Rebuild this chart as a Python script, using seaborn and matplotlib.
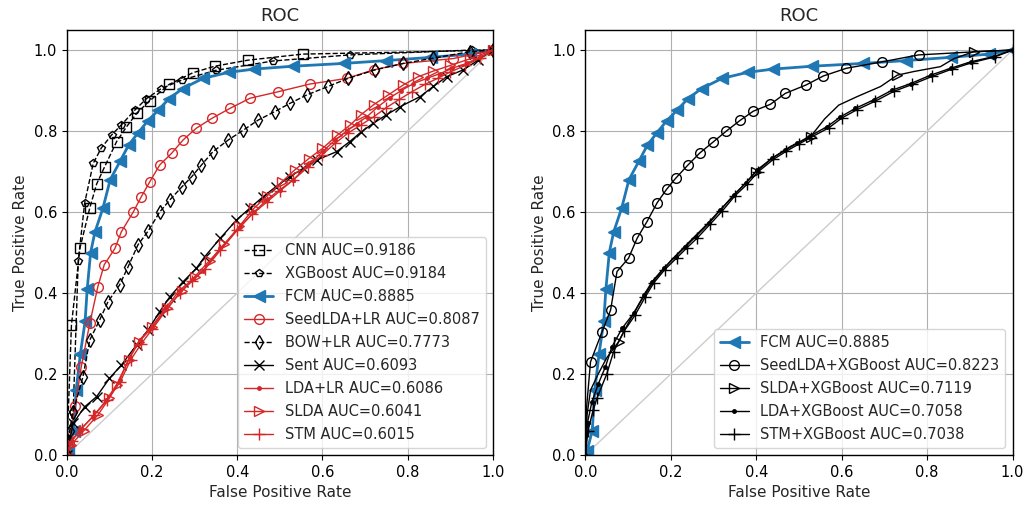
import matplotlib
matplotlib.use("Agg")
import matplotlib.pyplot as plt
import seaborn as sns

# ---- left panel data (fpr, tpr) ----
cnn_fpr = [0, 0.011, 0.031, 0.054, 0.07, 0.089, 0.117, 0.14, 0.165, 0.195, 0.24, 0.296, 0.347, 0.425, 0.554, 0.8, 1.0]
cnn_tpr = [0, 0.321, 0.511, 0.61, 0.669, 0.712, 0.774, 0.81, 0.845, 0.875, 0.915, 0.944, 0.96, 0.975, 0.99, 0.995, 1.0]

xgb_fpr = [0, 0.005, 0.015, 0.027, 0.042, 0.062, 0.081, 0.105, 0.128, 0.16, 0.187, 0.222, 0.27, 0.35, 0.484, 0.664, 0.95, 1.0]
xgb_tpr = [0, 0.04, 0.107, 0.48, 0.622, 0.72, 0.758, 0.79, 0.815, 0.852, 0.88, 0.905, 0.926, 0.95, 0.973, 0.988, 1.0, 1.0]

fcm_fpr = [0, 0.004, 0.016, 0.022, 0.032, 0.043, 0.048, 0.056, 0.066, 0.085, 0.102, 0.125, 0.145, 0.167,
           0.19, 0.215, 0.24, 0.272, 0.32, 0.38, 0.44, 0.53, 0.65, 0.75, 0.855, 0.945, 1.0]
fcm_tpr = [0, 0.01, 0.06, 0.16, 0.25, 0.33, 0.41, 0.5, 0.55, 0.61, 0.68, 0.725, 0.765, 0.795,
           0.825, 0.852, 0.88, 0.905, 0.93, 0.945, 0.953, 0.96, 0.967, 0.974, 0.982, 0.99, 1.0]

seed_lr_fpr = [0, 0.005, 0.02, 0.034, 0.054, 0.073, 0.088, 0.113, 0.128, 0.156, 0.175, 0.195, 0.218, 0.246,
               0.273, 0.304, 0.34, 0.383, 0.43, 0.496, 0.57, 0.657, 0.72, 0.79, 0.907, 1.0]
seed_lr_tpr = [0, 0.03, 0.12, 0.218, 0.325, 0.416, 0.47, 0.51, 0.551, 0.6, 0.638, 0.675, 0.716, 0.745,
               0.778, 0.807, 0.831, 0.856, 0.881, 0.897, 0.916, 0.93, 0.951, 0.967, 0.979, 1.0]

bow_fpr = [0, 0.007, 0.015, 0.038, 0.054, 0.077, 0.097, 0.124, 0.144, 0.167, 0.191, 0.218, 0.242, 0.27, 0.293,
           0.316, 0.343, 0.379, 0.414, 0.449, 0.488, 0.523, 0.563, 0.613, 0.66, 0.723, 0.79, 0.86, 0.946, 1.0]
bow_tpr = [0, 0.06, 0.107, 0.193, 0.284, 0.333, 0.379, 0.42, 0.465, 0.519, 0.553, 0.6, 0.63, 0.662, 0.687,
           0.716, 0.749, 0.778, 0.802, 0.827, 0.848, 0.868, 0.889, 0.91, 0.93, 0.951, 0.967, 0.98, 0.996, 1.0]

sent_fpr = [0, 0.015, 0.042, 0.07, 0.1, 0.128, 0.164, 0.191, 0.218, 0.242, 0.273, 0.304, 0.324, 0.36, 0.398, 0.43,
            0.461, 0.49, 0.523, 0.555, 0.586, 0.633, 0.664, 0.69, 0.719, 0.75, 0.782, 0.829, 0.86, 0.891, 0.93, 0.965, 1.0]
sent_tpr = [0, 0.078, 0.119, 0.144, 0.189, 0.222, 0.272, 0.309, 0.354, 0.391, 0.428, 0.461, 0.49, 0.535, 0.58, 0.61,
            0.638, 0.662, 0.687, 0.708, 0.728, 0.749, 0.774, 0.797, 0.819, 0.84, 0.86, 0.885, 0.91, 0.934, 0.951, 0.975, 1.0]

lda_lr_fpr = [0, 0.007, 0.031, 0.062, 0.093, 0.124, 0.148, 0.171, 0.199, 0.234, 0.265, 0.297, 0.32, 0.36, 0.406, 0.44,
              0.469, 0.5, 0.531, 0.565, 0.601, 0.63, 0.657, 0.68, 0.704, 0.73, 0.758, 0.785, 0.813, 0.845, 0.876, 0.905,
              0.938, 0.97, 1.0]
lda_lr_tpr = [0, 0.029, 0.062, 0.095, 0.136, 0.185, 0.243, 0.284, 0.317, 0.366, 0.407, 0.435, 0.455, 0.51, 0.564, 0.6,
              0.63, 0.655, 0.679, 0.715, 0.75, 0.778, 0.8, 0.818, 0.835, 0.86, 0.882, 0.9, 0.917, 0.93, 0.942, 0.955,
              0.967, 0.983, 1.0]

slda_fpr = [0, 0.01, 0.04, 0.073, 0.1, 0.117, 0.145, 0.17, 0.2, 0.235, 0.27, 0.3, 0.335, 0.37, 0.405, 0.44, 0.47,
            0.505, 0.535, 0.568, 0.6, 0.635, 0.665, 0.69, 0.72, 0.754, 0.79, 0.824, 0.86, 0.9, 0.945, 1.0]
slda_tpr = [0, 0.025, 0.06, 0.099, 0.14, 0.173, 0.235, 0.28, 0.315, 0.362, 0.405, 0.44, 0.48, 0.52, 0.565, 0.61, 0.64,
            0.675, 0.704, 0.732, 0.757, 0.79, 0.815, 0.84, 0.865, 0.889, 0.914, 0.934, 0.948, 0.962, 0.978, 1.0]

stm_fpr = [0, 0.012, 0.035, 0.065, 0.095, 0.125, 0.15, 0.175, 0.2, 0.235, 0.265, 0.295, 0.325, 0.36, 0.4, 0.435, 0.47,
           0.5, 0.53, 0.565, 0.6, 0.63, 0.66, 0.69, 0.72, 0.75, 0.78, 0.81, 0.84, 0.87, 0.9, 0.935, 0.97, 1.0]
stm_tpr = [0, 0.035, 0.065, 0.1, 0.135, 0.18, 0.235, 0.275, 0.31, 0.36, 0.4, 0.43, 0.46, 0.505, 0.555, 0.595, 0.625,
           0.652, 0.678, 0.71, 0.742, 0.77, 0.795, 0.815, 0.835, 0.858, 0.878, 0.897, 0.915, 0.93, 0.946, 0.962, 0.98, 1.0]

# ---- right panel data ----
seed_xgb_fpr = [0, 0.003, 0.012, 0.039, 0.059, 0.074, 0.101, 0.121, 0.144, 0.168, 0.19, 0.211, 0.24, 0.268, 0.298,
                0.33, 0.363, 0.393, 0.433, 0.468, 0.517, 0.557, 0.611, 0.695, 0.78, 0.9, 1.0]
seed_xgb_tpr = [0, 0.12, 0.23, 0.304, 0.358, 0.453, 0.486, 0.535, 0.576, 0.623, 0.656, 0.683, 0.716, 0.746, 0.772,
                0.8, 0.827, 0.849, 0.866, 0.893, 0.914, 0.936, 0.955, 0.971, 0.988, 0.995, 1.0]

slda_xgb_fpr = [0, 0.004, 0.012, 0.03, 0.05, 0.078, 0.1, 0.13, 0.16, 0.2, 0.24, 0.28, 0.32, 0.36, 0.4, 0.44, 0.48,
                0.527, 0.56, 0.593, 0.636, 0.691, 0.73, 0.769, 0.831, 0.863, 0.909, 1.0]
slda_xgb_tpr = [0, 0.1, 0.16, 0.2, 0.24, 0.28, 0.325, 0.38, 0.43, 0.48, 0.523, 0.565, 0.61, 0.655, 0.7, 0.735, 0.762,
                0.786, 0.83, 0.864, 0.885, 0.91, 0.938, 0.947, 0.959, 0.979, 0.996, 1.0]

lda_xgb_fpr = [0, 0.005, 0.015, 0.03, 0.047, 0.062, 0.086, 0.113, 0.137, 0.156, 0.183, 0.211, 0.234, 0.258, 0.289,
               0.316, 0.347, 0.375, 0.402, 0.437, 0.467, 0.496, 0.523, 0.566, 0.597, 0.632, 0.675, 0.718, 0.761, 0.808,
               0.855, 0.902, 0.956, 1.0]
lda_xgb_tpr = [0, 0.08, 0.13, 0.175, 0.218, 0.267, 0.313, 0.35, 0.395, 0.428, 0.461, 0.49, 0.514, 0.539, 0.572,
               0.605, 0.642, 0.671, 0.704, 0.733, 0.752, 0.77, 0.786, 0.811, 0.835, 0.856, 0.877, 0.901, 0.917, 0.938,
               0.955, 0.971, 0.984, 1.0]

stm_xgb_fpr = [0, 0.006, 0.018, 0.027, 0.05, 0.066, 0.09, 0.116, 0.14, 0.16, 0.186, 0.214, 0.238, 0.262, 0.292,
               0.32, 0.35, 0.378, 0.405, 0.44, 0.47, 0.5, 0.527, 0.57, 0.6, 0.636, 0.679, 0.722, 0.765, 0.812,
               0.858, 0.905, 0.958, 1.0]
stm_xgb_tpr = [0, 0.06, 0.11, 0.14, 0.2, 0.255, 0.305, 0.345, 0.39, 0.425, 0.458, 0.487, 0.512, 0.536, 0.57,
               0.602, 0.64, 0.668, 0.7, 0.73, 0.75, 0.768, 0.784, 0.808, 0.832, 0.853, 0.874, 0.898, 0.915, 0.935,
               0.953, 0.969, 0.983, 1.0]

blue = "#1f77b4"
red = "#d62728"

sns.set_style("ticks")
plt.rcParams["font.size"] = 10.5

fig = plt.figure(figsize=(10.27, 5.05), dpi=100)
ax1 = fig.add_axes([0.065, 0.099, 0.415, 0.842])
ax2 = fig.add_axes([0.570, 0.099, 0.416, 0.842])


def curve(ax, x, y, label, color="k", ls="-", marker="s", ms=7, lw=1.0, fill="none", every=None):
    sns.lineplot(x=x, y=y, ax=ax, sort=False, estimator=None, color=color, linestyle=ls,
                 marker=marker, markersize=ms, linewidth=lw, markerfacecolor=fill,
                 markeredgecolor=color, markeredgewidth=1.0, markevery=every, label=label)


# left panel
curve(ax1, cnn_fpr, cnn_tpr, "CNN AUC=0.9186", ls="--", marker="s", ms=7, every=list(range(1, 15)))
curve(ax1, xgb_fpr, xgb_tpr, "XGBoost AUC=0.9184", ls="--", marker="p", ms=6)
curve(ax1, fcm_fpr, fcm_tpr, "FCM AUC=0.8885", color=blue, marker="<", ms=8, lw=2.0, fill=blue)
curve(ax1, seed_lr_fpr, seed_lr_tpr, "SeedLDA+LR AUC=0.8087", color=red, marker="o", ms=7)
curve(ax1, bow_fpr, bow_tpr, "BOW+LR AUC=0.7773", ls="--", marker="d", ms=7)
curve(ax1, sent_fpr, sent_tpr, "Sent AUC=0.6093", marker="x", ms=7)
curve(ax1, lda_lr_fpr, lda_lr_tpr, "LDA+LR AUC=0.6086", color=red, marker=".", ms=5, fill=red)
curve(ax1, slda_fpr, slda_tpr, "SLDA AUC=0.6041", color=red, marker=">", ms=7)
curve(ax1, stm_fpr, stm_tpr, "STM AUC=0.6015", color=red, marker="+", ms=8)

# right panel
curve(ax2, fcm_fpr, fcm_tpr, "FCM AUC=0.8885", color=blue, marker="<", ms=8, lw=2.0, fill=blue)
curve(ax2, seed_xgb_fpr, seed_xgb_tpr, "SeedLDA+XGBoost AUC=0.8223", marker="o", ms=7, every=list(range(2, 25)))
curve(ax2, slda_xgb_fpr, slda_xgb_tpr, "SLDA+XGBoost AUC=0.7119", marker=">", ms=7, every=[5, 14, 17, 22, 26])
curve(ax2, lda_xgb_fpr, lda_xgb_tpr, "LDA+XGBoost AUC=0.7058", marker=".", ms=5, fill="k")
curve(ax2, stm_xgb_fpr, stm_xgb_tpr, "STM+XGBoost AUC=0.7038", marker="+", ms=8)

for ax in (ax1, ax2):
    ax.plot([0, 1], [0, 1], color="#cccccc", lw=1.0, zorder=1)
    ax.set_xlim(0, 1)
    ax.set_ylim(0, 1.05)
    ax.set_xticks([0, 0.2, 0.4, 0.6, 0.8, 1.0])
    ax.set_yticks([0, 0.2, 0.4, 0.6, 0.8, 1.0])
    ax.grid(True, color="#b0b0b0", linewidth=0.8)
    ax.set_axisbelow(True)
    for s in ax.spines.values():
        s.set_color("black")
        s.set_linewidth(1.0)
    ax.tick_params(direction="out", length=3.5, width=0.8, colors="black", labelsize=10.5)
    ax.set_xlabel("False Positive Rate", fontsize=11)
    ax.set_ylabel("True Positive Rate", fontsize=11)
    ax.set_title("ROC", fontsize=13)
    ax.legend(loc="lower right", fontsize=10.5, labelspacing=0.55, frameon=True, fancybox=True,
              framealpha=0.8, edgecolor="#cccccc")

fig.savefig("out.png", dpi=100)
